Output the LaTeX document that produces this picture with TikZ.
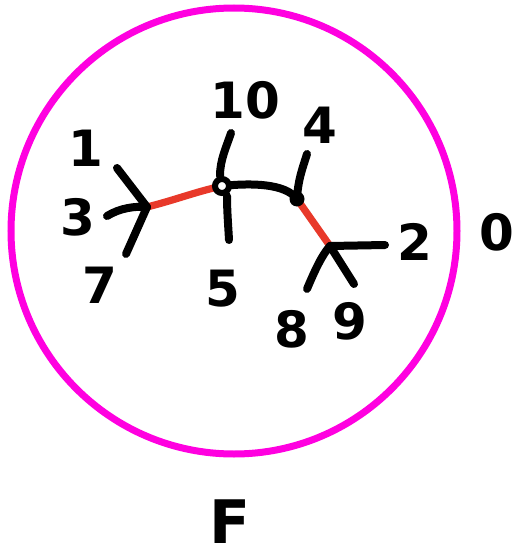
\documentclass[tikz,border=0pt]{standalone}
\usepackage{fontspec}
\setmainfont{DejaVu Sans}
\begin{document}
\begin{tikzpicture}[x=0.5pt,y=-0.5pt,
  stroke/.style={line width=4pt,line cap=round,black},
  redstroke/.style={line width=3.6pt,line cap=round,color={rgb,255:red,232;green,57;blue,42}},
  lbl/.style={font=\fontsize{25}{25}\selectfont\bfseries,inner sep=0pt}]
\useasboundingbox (0,0) rectangle (514,557);
\fill[white] (0,0) rectangle (514,557);
\draw[line width=3.5pt,color={rgb,255:red,255;green,0;blue,224}] (234,231) circle (223);
% junctions
\coordinate (A) at (147,207);
\coordinate (B) at (222,186);
\coordinate (C) at (297,199);
\coordinate (D) at (330,246);
% free ends
\coordinate (e1) at (117,168);
\coordinate (e3) at (107,216);
\coordinate (e7) at (126,254);
\coordinate (e10) at (231,133);
\coordinate (e5) at (229,240);
\coordinate (e4) at (307,154);
\coordinate (e2) at (385,245);
\coordinate (e8) at (307,289);
\coordinate (e9) at (354,284);
% edges
\draw[redstroke] (A) .. controls (175,200) and (195,192) .. (B);
\draw[stroke] (B) .. controls (250,183) and (285,183) .. (C);
\draw[redstroke] (C) -- (D);
\draw[stroke] (A) -- (e1);
\draw[stroke] (e3) .. controls (120,208) and (135,206) .. (A);
\draw[stroke] (A) -- (e7);
\draw[stroke] (e10) .. controls (226,148) and (220,160) .. (220,176);
\draw[stroke] (227,196) .. controls (227,210) and (228,222) .. (e5);
\draw[stroke] (e4) .. controls (302,170) and (298,180) .. (C);
\draw[stroke] (D) -- (e2);
\draw[stroke] (e8) .. controls (315,270) and (322,255) .. (D);
\draw[stroke] (D) -- (e9);
\fill[white] (B) circle (7);
\draw[line width=3pt] (B) circle (7);
\fill (C) circle (7.5);
% labels
\node[lbl] (l1) at (86,148) {1};
\node[lbl] (l3) at (78,217) {3};
\node[lbl] (l7) at (100,285) {7};
\node[lbl] (l10) at (245,100) {10};
\node[lbl] (l5) at (223,289) {5};
\node[lbl] (l4) at (320,125) {4};
\node[lbl] (l2) at (415,242) {2};
\node[lbl] (l8) at (292,329) {8};
\node[lbl] (l9) at (350,321) {9};
\node[lbl] (l0) at (497,232) {0};
\node[lbl,font=\fontsize{30}{30}\selectfont\bfseries] (lF) at (230,522) {F};
\end{tikzpicture}
\end{document}
